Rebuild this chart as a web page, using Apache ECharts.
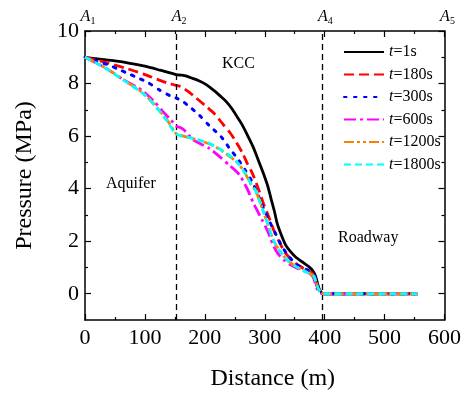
<!DOCTYPE html>
<html>
<head>
<meta charset="utf-8">
<script src="https://cdn.jsdelivr.net/npm/echarts@6/dist/echarts.min.js"></script>
<style>html,body{margin:0;padding:0;background:#fff;}#c{width:464px;height:396px;}</style>
</head>
<body>
<div id="c"></div>
<script>
// ---- data ----
var seriesNames = ['1s', '180s', '300s', '600s', '1200s', '1800s'];
var t1s = [[0,9],[25,8.93],[50,8.86],[75,8.77],[100,8.66],[125,8.51],[152,8.34],[160,8.32],[166,8.3],[178,8.21],[191,8.1],[203,7.95],[216,7.72],[226,7.52],[235,7.33],[245,7.05],[254,6.73],[263,6.4],[271,6.04],[280,5.62],[288,5.16],[294,4.8],[299,4.5],[305,4.1],[310,3.66],[316,3.15],[321,2.66],[328,2.22],[335,1.85],[343,1.6],[351,1.41],[362,1.22],[373,1.04],[380,0.88],[385,0.66],[388,0.4],[391,0.18],[396,0.02],[400,0],[450,0],[500,0],[555,0]];
var t180s = [[0,9],[27,8.85],[66,8.6],[99,8.35],[124,8.13],[138,8.02],[152,7.93],[160,7.88],[172,7.7],[185,7.46],[200,7.17],[216,6.85],[230,6.46],[243,6.1],[253,5.75],[263,5.35],[271,4.95],[279,4.6],[290,3.95],[298,3.42],[307,2.91],[315,2.42],[324,1.98],[333,1.6],[343,1.33],[351,1.16],[365,0.96],[379,0.79],[384,0.6],[387,0.3],[391,0.12],[395,0.02],[400,0],[450,0],[500,0],[555,0]];
var t300s = [[0,9],[19,8.85],[38,8.72],[58,8.52],[74,8.36],[90,8.2],[105,8.04],[124,7.76],[144,7.51],[152,7.45],[163,7.32],[177,7.07],[191,6.79],[207,6.41],[227,5.98],[241,5.54],[254,5.16],[267,4.72],[278,4.3],[288,3.8],[298,3.25],[308,2.75],[318,2.29],[329,1.79],[341,1.4],[354,1.1],[368,0.94],[380,0.8],[384,0.6],[387,0.35],[391,0.13],[395,0.02],[400,0],[450,0],[500,0],[555,0]];
var t600s = [[0,9],[33,8.61],[66,8.12],[94,7.76],[116,7.3],[130,6.93],[144,6.6],[152,6.38],[160,6.32],[166,6.22],[173,6.04],[180,5.86],[193,5.7],[207,5.54],[224,5.23],[243,4.85],[254,4.62],[260,4.45],[271,3.98],[280,3.5],[288,3.14],[295,2.83],[302,2.52],[309,2.15],[315,1.8],[323,1.5],[332,1.29],[343,1.1],[354,0.97],[364,0.88],[374,0.79],[380,0.66],[383,0.5],[387,0.2],[391,0.07],[394,0.02],[400,0],[450,0],[500,0],[555,0]];
var t1200s = [[0,9],[33,8.61],[66,8.12],[99,7.6],[121,7.06],[138,6.58],[149,6.18],[152,6.1],[160,6.03],[180,5.9],[207,5.71],[227,5.46],[243,5.2],[256,4.95],[268,4.56],[276,4.2],[285,3.9],[292,3.5],[299,3.03],[306,2.6],[312,2.18],[318,1.88],[324,1.66],[332,1.42],[340,1.23],[351,1.05],[362,0.92],[374,0.79],[382,0.66],[386,0.42],[390,0.16],[395,0.03],[400,0],[450,0],[500,0],[555,0]];
var t1800s = [[0,9],[33,8.6],[66,8.1],[99,7.58],[121,7.04],[138,6.54],[149,6.14],[152,6.08],[160,6.01],[180,5.91],[207,5.73],[227,5.48],[243,5.23],[256,4.95],[268,4.56],[276,4.22],[285,3.91],[292,3.48],[299,3.04],[306,2.6],[312,2.16],[318,1.88],[324,1.66],[332,1.44],[340,1.23],[351,1.05],[362,0.91],[374,0.77],[382,0.66],[386,0.42],[390,0.16],[395,0.03],[400,0],[450,0],[500,0],[555,0]];
var boundaryX = [152, 396];
var topTickValues = [0, 152, 396, 600];
var topTickLabels = ['1', '2', '4', '5'];
var yLabelValues = [0, 2, 4, 6, 8, 10];
var yMinorValues = [1, 3, 5, 7, 9];
var regionLabels = ['Aquifer', 'KCC', 'Roadway'];

// ---- chart ----
var FONT = '"Liberation Serif", "Times New Roman", serif';
var chart = echarts.init(document.getElementById('c'), null, {renderer: 'canvas'});
var colors = ['#000000', '#ff0000', '#0000ff', '#ff00ff', '#ff8000', '#00ffff'];
var dashes = ['solid', [10, 5], [2.5, 7.5], [12, 4, 3, 4], [10, 3, 3, 3, 3, 3], [7, 4]];
var widths = [2.8, 2.8, 3, 2.8, 2.8, 2.8];
var allData = [t1s, t180s, t300s, t600s, t1200s, t1800s];

var axisLineStyle = {color: '#000', width: 1.5};
var tickStyle = {color: '#000', width: 1.2};
var series = allData.map(function (d, i) {
  var s = {
    name: seriesNames[i],
    type: 'line',
    data: d,
    showSymbol: false,
    symbol: 'none',
    smooth: 0.25,
    xAxisIndex: 0,
    yAxisIndex: 0,
    z: 3 + i,
    color: colors[i],
    lineStyle: {color: colors[i], width: widths[i], type: dashes[i], cap: i === 2 ? 'round' : 'butt'},
    animation: false
  };
  if (i === 0) {
    s.markLine = {
      silent: true,
      symbol: ['none', 'none'],
      label: {show: false},
      lineStyle: {color: '#000', width: 1.3, type: [6, 4]},
      data: boundaryX.map(function (x) { return {xAxis: x}; }),
      animation: false
    };
  }
  return s;
});

var option = {
  backgroundColor: '#fff',
  animation: false,
  grid: {left: 85, right: 18, top: 31, bottom: 72},
  legend: {
    orient: 'vertical',
    left: 338,
    top: 39,
    itemWidth: 40,
    itemHeight: 14,
    itemGap: 6.5,
    data: seriesNames,
    itemStyle: {opacity: 0},
    formatter: function (n) { return '{i|t}{n|=' + n + '}'; },
    textStyle: {
      fontFamily: FONT, fontSize: 16, color: '#000',
      rich: {
        i: {fontFamily: FONT, fontSize: 16, fontStyle: 'italic', color: '#000'},
        n: {fontFamily: FONT, fontSize: 16, color: '#000'}
      }
    }
  },
  xAxis: [
    {
      type: 'value', position: 'bottom', min: 0, max: 600, interval: 100,
      name: 'Distance (m)', nameLocation: 'middle', nameGap: 47,
      nameTextStyle: {fontFamily: FONT, fontSize: 24, color: '#000', padding: [0, 0, 0, 16]},
      axisLine: {show: true, onZero: false, lineStyle: axisLineStyle},
      axisTick: {show: true, inside: true, length: 6, lineStyle: tickStyle},
      minorTick: {show: true, splitNumber: 2, length: 3, lineStyle: tickStyle},
      axisLabel: {fontFamily: FONT, fontSize: 22, color: '#000', margin: 7},
      splitLine: {show: false}
    },
    {
      type: 'value', position: 'top', min: 0, max: 600, interval: 100,
      axisLine: {show: true, onZero: false, lineStyle: axisLineStyle},
      axisTick: {show: true, inside: true, length: 6, lineStyle: tickStyle},
      minorTick: {show: true, splitNumber: 2, length: 3, lineStyle: tickStyle},
      axisLabel: {
        show: true, margin: 5,
        customValues: topTickValues,
        formatter: function (v) {
          var idx = topTickValues.indexOf(v);
          return idx < 0 ? '' : '{a|A}{s|' + topTickLabels[idx] + '}';
        },
        rich: {
          a: {fontFamily: FONT, fontSize: 16, fontStyle: 'italic', color: '#000', padding: [0, 0, 0, 6]},
          s: {fontFamily: FONT, fontSize: 10, color: '#000', verticalAlign: 'bottom', padding: [8, 0, 0, 0]}
        }
      },
      splitLine: {show: false}
    }
  ],
  yAxis: [
    {
      type: 'value', position: 'left', min: -1, max: 10,
      name: 'Pressure (MPa)', nameLocation: 'middle', nameGap: 48,
      nameTextStyle: {fontFamily: FONT, fontSize: 24, color: '#000'},
      axisLine: {show: true, onZero: false, lineStyle: axisLineStyle},
      axisTick: {show: true, inside: true, length: 6, customValues: yLabelValues, lineStyle: tickStyle},
      axisLabel: {fontFamily: FONT, fontSize: 22, color: '#000', margin: 6, customValues: yLabelValues},
      splitLine: {show: false}
    },
    {
      type: 'value', position: 'left', min: -1, max: 10,
      axisLine: {show: false, onZero: false},
      axisTick: {show: true, inside: true, length: 3, customValues: yMinorValues, lineStyle: tickStyle},
      axisLabel: {show: false},
      splitLine: {show: false}
    },
    {
      type: 'value', position: 'right', min: -1, max: 10,
      axisLine: {show: true, onZero: false, lineStyle: axisLineStyle},
      axisTick: {show: true, inside: true, length: 6, customValues: yLabelValues, lineStyle: tickStyle},
      axisLabel: {show: false},
      splitLine: {show: false}
    },
    {
      type: 'value', position: 'right', min: -1, max: 10,
      axisLine: {show: false, onZero: false},
      axisTick: {show: true, inside: true, length: 3, customValues: yMinorValues, lineStyle: tickStyle},
      axisLabel: {show: false},
      splitLine: {show: false}
    }
  ],
  graphic: [
    {type: 'text', left: 106, top: 176, style: {text: regionLabels[0], fontFamily: FONT, fontSize: 16, fill: '#000'}},
    {type: 'text', left: 222, top: 56, style: {text: regionLabels[1], fontFamily: FONT, fontSize: 16, fill: '#000'}},
    {type: 'text', left: 338, top: 230, style: {text: regionLabels[2], fontFamily: FONT, fontSize: 16, fill: '#000'}}
  ],
  series: series
};
chart.setOption(option);
</script>
</body>
</html>
